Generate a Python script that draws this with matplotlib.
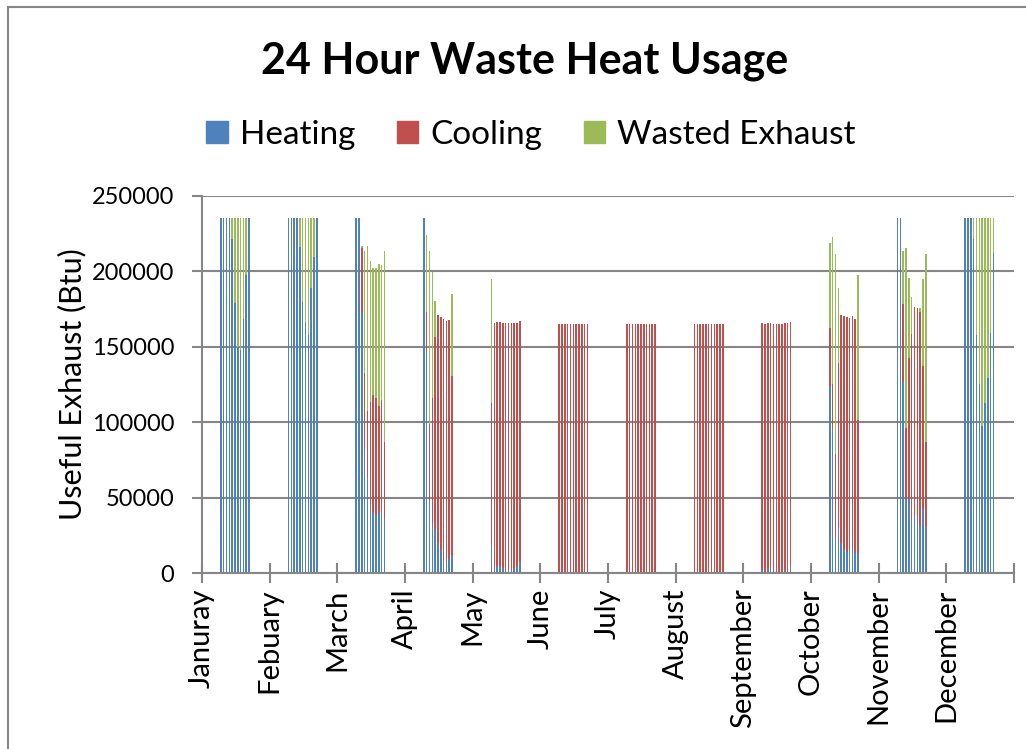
import numpy as np
import matplotlib
matplotlib.use("Agg")
import matplotlib.pyplot as plt
from matplotlib.patches import Patch

plt.rcParams['font.family'] = ['Lato', 'DejaVu Sans']

months = ["Januray", "Febuary", "March", "April", "May", "June", "July",
          "August", "September", "October", "November", "December"]

# 11 operating hours per month, Btu
heating = [
    [235500, 235500, 235500, 235500, 221200, 178800, 150000, 147800, 168400, 197600, 235500],
    [235500, 235500, 235500, 235500, 216400, 179900, 166200, 157800, 189200, 209300, 235500],
    [235500, 235500, 172600, 82000, 63200, 46600, 39600, 38500, 39600, 41300, 35800],
    [235500, 146700, 47300, 32900, 29000, 19700, 15700, 9700, 7500, 9100, 11900],
    [17700, 1800, 4600, 4600, 3500, 1800, 1800, 2200, 2400, 4000, 7300],
    [0, 0, 0, 0, 0, 0, 0, 0, 0, 0, 0],
    [0, 0, 0, 0, 0, 0, 0, 0, 0, 0, 0],
    [0, 0, 0, 0, 0, 0, 0, 0, 0, 0, 0],
    [1800, 0, 2900, 4000, 0, 0, 0, 0, 1800, 0, 4400],
    [123500, 95100, 23500, 30600, 20000, 16000, 14100, 14800, 17000, 13000, 13000],
    [235500, 235500, 126900, 49100, 49100, 35100, 38000, 36200, 31200, 42200, 30700],
    [235500, 235500, 235500, 221400, 157700, 125200, 97300, 112800, 129400, 159300, 212400],
]
cooling = [
    [0, 0, 0, 0, 0, 0, 0, 0, 0, 0, 0],
    [0, 0, 0, 0, 0, 0, 0, 0, 0, 0, 0],
    [0, 0, 43100, 50800, 44400, 67000, 78500, 77800, 71200, 73400, 51100],
    [0, 26500, 51300, 83100, 127800, 151400, 154300, 158700, 159800, 158600, 118900],
    [95300, 163700, 162000, 162000, 162600, 163700, 163700, 163300, 163500, 161900, 159700],
    [164800, 164800, 164800, 164800, 164800, 164800, 164800, 164800, 164800, 164800, 164800],
    [164800, 164800, 164800, 164800, 164800, 164800, 164800, 164800, 164800, 164800, 164800],
    [164800, 164800, 164800, 164800, 164800, 164800, 164800, 164800, 164800, 164800, 164800],
    [163700, 165000, 163000, 161900, 165000, 165000, 165000, 165000, 163700, 165500, 161900],
    [39100, 29900, 55700, 108800, 151400, 154300, 155400, 154500, 153400, 155600, 88400],
    [0, 0, 51500, 47300, 93700, 123300, 138600, 139700, 141800, 95300, 56400],
    [0, 0, 0, 0, 0, 0, 0, 0, 0, 0, 0],
]
wasted = [
    [0, 0, 0, 0, 14300, 56700, 85500, 87700, 67100, 37900, 0],
    [0, 0, 0, 0, 19100, 55600, 69300, 77700, 46300, 26200, 0],
    [0, 0, 1300, 80700, 109000, 93300, 83900, 85700, 94100, 89300, 126600],
    [0, 50800, 114900, 83800, 23900, 0, 0, 0, 0, 0, 54200],
    [81800, 0, 0, 0, 0, 0, 0, 0, 0, 0, 0],
    [0, 0, 0, 0, 0, 0, 0, 0, 0, 0, 0],
    [0, 0, 0, 0, 0, 0, 0, 0, 0, 0, 0],
    [0, 0, 0, 0, 0, 0, 0, 0, 0, 0, 0],
    [0, 0, 0, 0, 0, 0, 0, 0, 0, 0, 0],
    [56400, 97500, 132300, 49800, 0, 0, 0, 0, 0, 0, 96200],
    [0, 0, 35100, 118900, 52800, 24300, 0, 0, 2400, 57300, 124400],
    [0, 0, 0, 14100, 77800, 110300, 138200, 122700, 106100, 76200, 23100],
]

blue = '#4F81BD'
red = '#C0504D'
green = '#9BBB59'
grey = '#868686'

fig = plt.figure(figsize=(10.26, 7.49), dpi=100)
ax = fig.add_axes([202/1026, 1-573/749, 812/1026, 377/749])

hours = np.arange(11)
for m in range(12):
    x = m*24 + 6.7 + hours
    h = np.array(heating[m])
    c = np.array(cooling[m])
    w = np.array(wasted[m])
    ax.bar(x, h, width=0.55, color=blue, linewidth=0)
    ax.bar(x, c, width=0.55, bottom=h, color=red, linewidth=0)
    ax.bar(x, w, width=0.55, bottom=h+c, color=green, linewidth=0)

ax.set_xlim(0, 288)
ax.set_ylim(0, 250000)
ax.set_yticks(range(0, 250001, 50000))
ax.yaxis.grid(True, color=grey, linewidth=1.5)
ax.set_axisbelow(True)
ax.set_xticks(range(0, 289, 24))
ax.set_xticklabels(months + [''], rotation=90, fontsize=21)
ax.tick_params(axis='x', direction='inout', length=14, width=1.5, color=grey, pad=4)
ax.tick_params(axis='y', direction='out', length=7, width=1.5, color=grey, pad=13, labelsize=17)
for s in ['top', 'right']:
    ax.spines[s].set_visible(False)
for s in ['left', 'bottom']:
    ax.spines[s].set_color(grey)
    ax.spines[s].set_linewidth(1.5)

ax.set_ylabel("Useful Exhaust (Btu)", fontsize=22)
ax.yaxis.set_label_coords(-116/812, 0.5)

fig.text(525/1026, 1-61/749, "24 Hour Waste Heat Usage", fontsize=31, fontweight='bold',
         ha='center', va='center')

handles = [Patch(color=blue), Patch(color=red), Patch(color=green)]
fig.legend(handles, ["Heating", "Cooling", "Wasted Exhaust"], loc='center',
           bbox_to_anchor=(531/1026, 1-135/749), ncol=3, frameon=False, fontsize=24,
           handlelength=0.65, handleheight=0.65, handletextpad=0.35, columnspacing=1.25)

# outer chart border (left and top only visible)
fig.add_artist(plt.Line2D([8/1026, 8/1026], [0, 1-7/749], color=grey, linewidth=1.5))
fig.add_artist(plt.Line2D([8/1026, 1], [1-7/749, 1-7/749], color=grey, linewidth=1.5))

fig.savefig("out.png", dpi=100)
